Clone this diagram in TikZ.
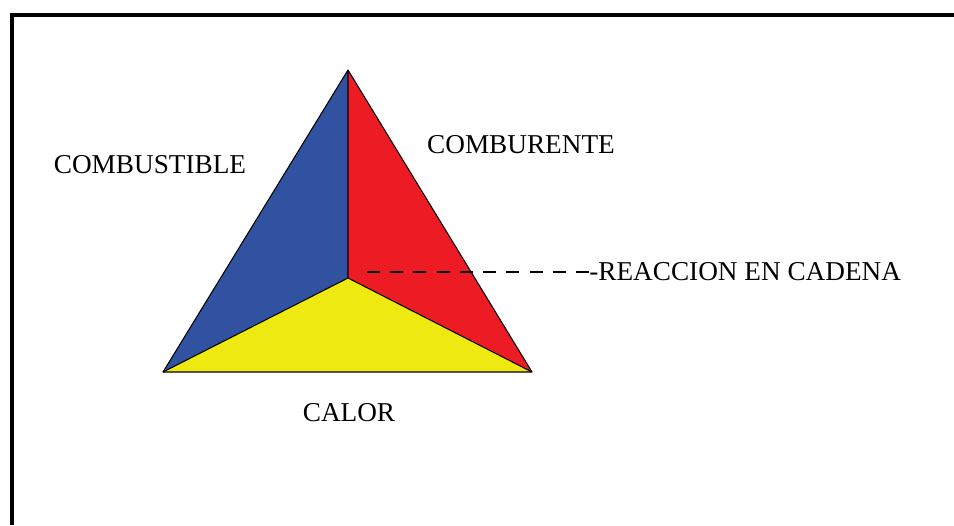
\documentclass[tikz,border=0pt]{standalone}
\usepackage{fontspec}
\setmainfont{Liberation Serif}
\definecolor{azul}{RGB}{48,82,160}
\definecolor{rojo}{RGB}{237,28,36}
\definecolor{amarillo}{RGB}{238,234,17}
\tikzset{
 etiqueta/.style={inner sep=0pt, font=\fontsize{15.5}{18}\selectfont},
 cara/.style={draw=black, line width=0.6pt, line join=round}
}
\begin{document}
\begin{tikzpicture}[x=0.02cm, y=-0.02cm]
 \useasboundingbox (0,0) rectangle (954,525);
 % marco
 \draw[line width=2.3pt] (12,525) -- (12,15) -- (954,15);

 % vertices del triangulo
 \coordinate (arriba) at (348,70);
 \coordinate (izq) at (163,372);
 \coordinate (der) at (532,372);
 \coordinate (centro) at (348,278);

 % caras
 \fill[azul] (arriba) -- (centro) -- (izq) -- cycle;
 \fill[rojo] (arriba) -- (der) -- (centro) -- cycle;
 \fill[amarillo] (izq) -- (centro) -- (der) -- cycle;
 \draw[cara] (arriba) -- (izq) -- (der) -- cycle;
 \draw[cara] (arriba) -- (centro) -- (izq);
 \draw[cara] (centro) -- (der);

 % etiquetas
 \node[etiqueta] (combustible) at (150,165) {COMBUSTIBLE};
 \node[etiqueta] (comburente) at (521,145) {COMBURENTE};
 \node[etiqueta] (calor) at (349,413) {CALOR};
 \node[etiqueta, anchor=west] (reaccion) at (589,272) {-REACCION EN CADENA};

 % linea de la reaccion en cadena
 \coordinate (inicio) at (367,272);
 \draw[line width=1pt, dash pattern=on 0.26cm off 0.205cm] (inicio) -- (reaccion.west);
\end{tikzpicture}
\end{document}
